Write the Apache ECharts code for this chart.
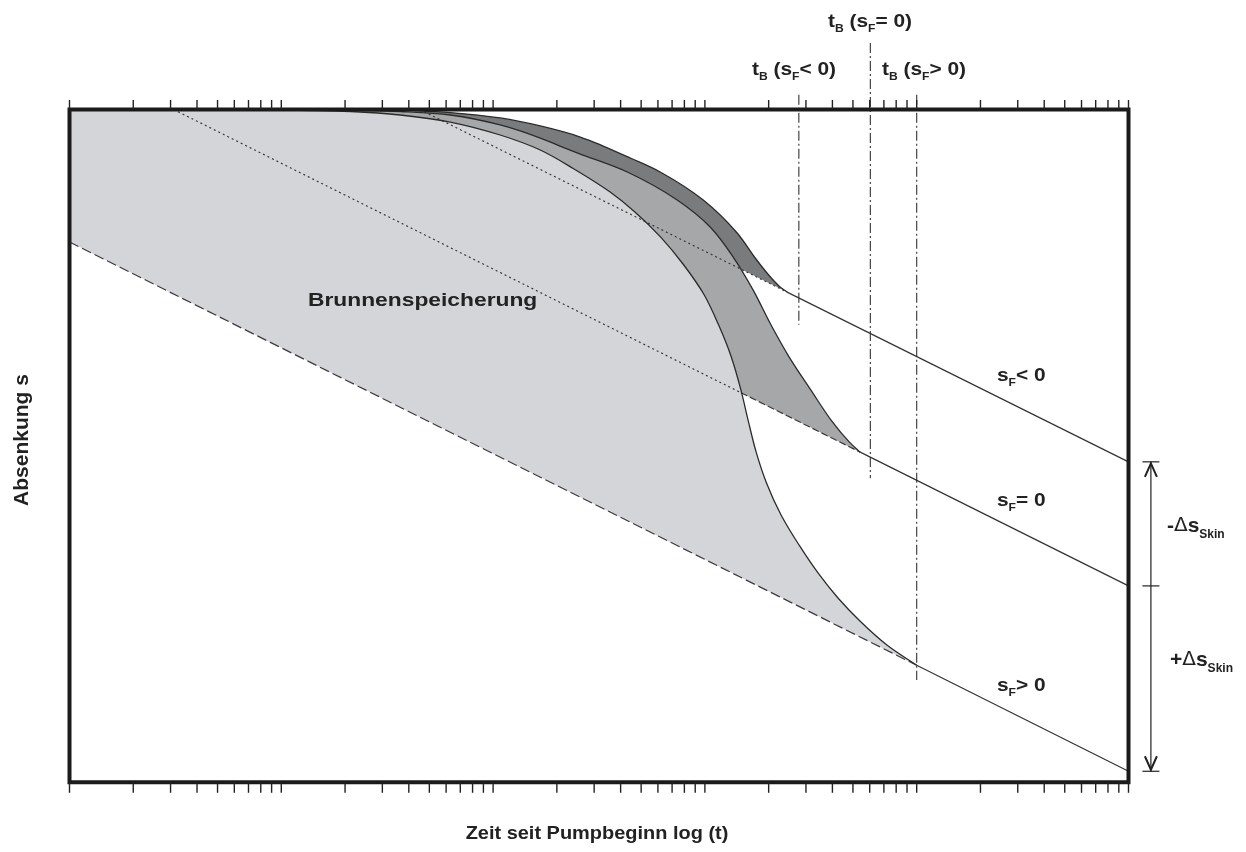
<!DOCTYPE html>
<html>
<head>
<meta charset="utf-8">
<script src="https://cdn.jsdelivr.net/npm/echarts@6/dist/echarts.min.js"></script>
<style>
html, body { margin: 0; padding: 0; background: #fff; }
#chart { width: 1246px; height: 852px; }
</style>
</head>
<body>
<div id="chart"></div>
<script>
// Semi-log drawdown diagram: time t (log, 1 … 1e5) against drawdown s (0 at top, 10 at bottom).

// minor/major tick positions on the time axis
const tickValues = [
  1, 2, 3, 4, 5, 6, 7, 8, 9,
  10, 20, 30, 40, 50, 60, 70, 80, 90,
  100, 200, 300, 400, 500, 600, 700, 800, 900,
  1000, 2000, 3000, 4000, 5000, 6000, 7000, 8000, 9000,
  10000, 20000, 30000, 40000, 50000, 60000, 70000, 80000, 90000,
  100000
];

// wellbore-storage curves [t, s] for the three skin cases
const curveSkinPos = [
  [8, 0], [12.3, 0.012], [21.2, 0.03], [36.4, 0.082], [62.7, 0.186], [108, 0.379],
  [167, 0.602], [240, 0.88], [357, 1.227], [470, 1.53], [620, 1.9], [790, 2.3],
  [990, 2.75], [1160, 3.2], [1330, 3.67], [1480, 4.17], [1600, 4.62], [1746, 5.093],
  [1947, 5.539], [2292, 6.03], [2787, 6.476], [3427, 6.892], [4260, 7.264], [5410, 7.606],
  [7257, 7.963], [10000, 8.26]
];
const curveSkinZero = [
  [21.2, 0.01], [36.4, 0.03], [62.7, 0.082], [108, 0.23], [167, 0.424], [207, 0.543],
  [258, 0.662], [430, 0.929], [740, 1.346], [1059, 1.747], [1360, 2.193], [1690, 2.684],
  [2050, 3.2], [2500, 3.68], [3150, 4.16], [3950, 4.62], [4800, 4.94], [5410, 5.093]
];
const curveSkinNeg = [
  [36.4, 0.01], [62.7, 0.045], [108, 0.126], [167, 0.245], [258, 0.409], [331, 0.543],
  [444, 0.721], [615, 0.929], [982, 1.346], [1420, 1.836], [1720, 2.2], [2000, 2.46],
  [2250, 2.63], [2444, 2.714]
];

// late-time semi-log straight lines
const lineSkinNeg = [[2444, 2.714], [100000, 5.237]];
const lineSkinZero = [[5410, 5.093], [100000, 7.081]];
const lineSkinPos = [[10000, 8.26], [100000, 9.836]];

// their backward extensions into early time
const extSkinNeg = [[45, 0], [2444, 2.714]];
const extSkinZeroDotted = [[3.1, 0], [1479, 4.209]];
const extSkinZeroDashed = [[1479, 4.209], [5410, 5.093]];
const extSkinPos = [[1, 1.97], [10000, 8.26]];

// end of wellbore storage t_B for each case
const markSkinNeg = [[2777, -0.22], [2777, 3.2]];
const markSkinZero = [[6040, -0.99], [6040, 5.48]];
const markSkinPos = [[10000, -0.22], [10000, 8.48]];

const FONT = '"Liberation Sans", Arial, Helvetica, sans-serif';
const INK = '#222';

function toPx(api, pts) { return pts.map(p => api.coord(p)); }

// centripetal Catmull-Rom spline through pixel points, as cubic Bezier commands
function smoothPath(px, moveFirst) {
  let d = (moveFirst ? 'M' : 'L') + px[0][0] + ',' + px[0][1];
  const n = px.length, eps = 1e-6;
  const dist = (a, b) => Math.hypot(a[0] - b[0], a[1] - b[1]);
  for (let i = 0; i < n - 1; i++) {
    const p0 = px[Math.max(i - 1, 0)], p1 = px[i], p2 = px[i + 1], p3 = px[Math.min(i + 2, n - 1)];
    const l01 = dist(p0, p1), l12 = dist(p1, p2), l23 = dist(p2, p3);
    const l01a = Math.sqrt(l01), l12a = Math.sqrt(l12), l23a = Math.sqrt(l23);
    let c1, c2;
    if (l01a > eps) {
      const a = 2 * l01 + 3 * l01a * l12a + l12, m = 3 * l01a * (l01a + l12a);
      c1 = [(p1[0] * a - p0[0] * l12 + p2[0] * l01) / m, (p1[1] * a - p0[1] * l12 + p2[1] * l01) / m];
    } else {
      c1 = [p1[0] + (p2[0] - p1[0]) / 3, p1[1] + (p2[1] - p1[1]) / 3];
    }
    if (l23a > eps) {
      const b = 2 * l23 + 3 * l23a * l12a + l12, m = 3 * l23a * (l23a + l12a);
      c2 = [(p2[0] * b + p1[0] * l23 - p3[0] * l12) / m, (p2[1] * b + p1[1] * l23 - p3[1] * l12) / m];
    } else {
      c2 = [p2[0] - (p2[0] - p1[0]) / 3, p2[1] - (p2[1] - p1[1]) / 3];
    }
    d += ' C' + c1[0] + ',' + c1[1] + ' ' + c2[0] + ',' + c2[1] + ' ' + p2[0] + ',' + p2[1];
  }
  return d;
}
function straightPath(px) { return px.map(p => ' L' + p[0] + ',' + p[1]).join(''); }

function lineSeries(data, style, z) {
  return {
    type: 'line', data: data, symbol: 'none', showSymbol: false, silent: true,
    clip: false, z: z || 3, animation: false,
    lineStyle: Object.assign({ color: '#333', width: 1.2 }, style)
  };
}

const main = { fontSize: 19, fontWeight: 'bold', fontFamily: FONT, fill: INK, lineHeight: 22, verticalAlign: 'top' };
const sub = { fontSize: 11, fontWeight: 'bold', fontFamily: FONT, fill: INK, lineHeight: 14, padding: [11, 0, 0, 0], verticalAlign: 'top' };
const big = { fontSize: 21, fontWeight: 'bold', fontFamily: FONT, fill: INK, lineHeight: 24, verticalAlign: 'top' };
const bigSub = { fontSize: 12, fontWeight: 'bold', fontFamily: FONT, fill: INK, lineHeight: 14, padding: [13, 0, 0, 0], verticalAlign: 'top' };
const delta = { fontSize: 20, fontWeight: 'normal', fontFamily: '"DejaVu Sans", sans-serif', fill: INK, lineHeight: 24, verticalAlign: 'top' };
const richSet = { m: main, s: sub, b: big, bs: bigSub, d: delta };

function label(text, x, y, sx) {
  return { type: 'text', x: x, y: y, scaleX: sx || 1.1, silent: true, z: 10,
    style: { text: text, rich: richSet, fill: INK, align: 'left', verticalAlign: 'top' } };
}

const chart = echarts.init(document.getElementById('chart'));

chart.setOption({
  animation: false,
  backgroundColor: '#fff',
  grid: { left: 69.5, right: 117.5, top: 109.5, bottom: 69.7, containLabel: false },
  xAxis: { type: 'log', logBase: 10, min: 1, max: 100000, show: false },
  yAxis: { type: 'value', min: 0, max: 10, inverse: true, show: false },
  series: [
    // shaded storage regions
    {
      type: 'custom', data: [[1, 0]], z: 1, silent: true, clip: true,
      renderItem(params, api) {
        const dark = smoothPath(toPx(api, curveSkinNeg), true) +
          straightPath(toPx(api, extSkinNeg.slice().reverse())) + ' Z';
        const medium = smoothPath(toPx(api, curveSkinZero), true) +
          straightPath(toPx(api, extSkinZeroDashed.concat(extSkinZeroDotted.slice(0, 1)).reverse())) + ' Z';
        const corner = api.coord([1, 0]);
        const light = 'M' + corner[0] + ',' + corner[1] + ' ' +
          smoothPath(toPx(api, curveSkinPos), false) +
          straightPath(toPx(api, extSkinPos.slice().reverse())) + ' Z';
        return { type: 'group', children: [
          { type: 'path', shape: { pathData: dark }, style: { fill: '#7a7b7d' } },
          { type: 'path', shape: { pathData: medium }, style: { fill: '#a6a7a9' } },
          { type: 'path', shape: { pathData: light }, style: { fill: '#d3d5d8' } }
        ] };
      }
    },
    // straight-line extensions
    lineSeries(extSkinPos, { type: [10, 4], color: '#3a3a3a' }),
    lineSeries(extSkinZeroDotted, { type: [2, 3], color: '#3a3a3a' }),
    lineSeries(extSkinZeroDashed, { type: [7, 3], color: '#3a3a3a' }),
    lineSeries(extSkinNeg, { type: [2, 3], color: '#3a3a3a' }),
    // late-time straight lines
    lineSeries(lineSkinNeg, { type: 'solid' }),
    lineSeries(lineSkinZero, { type: 'solid' }),
    lineSeries(lineSkinPos, { type: 'solid' }),
    // t_B markers
    lineSeries(markSkinNeg, { type: [10, 3, 2, 3], color: '#333', width: 1.1 }),
    lineSeries(markSkinZero, { type: [10, 3, 2, 3], color: '#333', width: 1.1 }),
    lineSeries(markSkinPos, { type: [10, 3, 2, 3], color: '#333', width: 1.1 }),
    // storage curves
    {
      type: 'custom', data: [[1, 0]], z: 4, silent: true, clip: true,
      renderItem(params, api) {
        const st = { fill: null, stroke: '#2b2b2b', lineWidth: 1.3 };
        return { type: 'group', children: [curveSkinNeg, curveSkinZero, curveSkinPos].map(c => (
          { type: 'path', shape: { pathData: smoothPath(toPx(api, c), true) }, style: st }
        )) };
      }
    },
    // frame
    {
      type: 'custom', data: [[1, 0]], z: 6, silent: true, clip: false,
      renderItem(params, api) {
        const a = api.coord([1, 0]), b = api.coord([100000, 10]);
        return { type: 'rect', shape: { x: a[0], y: a[1], width: b[0] - a[0], height: b[1] - a[1] },
          style: { fill: null, stroke: '#1b1b1b', lineWidth: 4 } };
      }
    },
    // outward ticks on top and bottom edges
    {
      type: 'custom', data: tickValues.map(v => [v, 0]), z: 6, silent: true, clip: false,
      renderItem(params, api) {
        const t = api.value(0);
        const top = api.coord([t, 0]), bot = api.coord([t, 10]);
        const st = { stroke: '#222', lineWidth: 1.4 };
        return { type: 'group', children: [
          { type: 'line', shape: { x1: top[0], y1: top[1], x2: top[0], y2: top[1] - 9.5 }, style: st },
          { type: 'line', shape: { x1: bot[0], y1: bot[1], x2: bot[0], y2: bot[1] + 10.5 }, style: st }
        ] };
      }
    },
    // skin-effect dimension arrow at the right edge
    {
      type: 'custom', data: [[100000, 0]], z: 6, silent: true, clip: false,
      renderItem(params, api) {
        const tEnd = api.value(0);
        const yTop = api.coord([tEnd, lineSkinNeg[1][1]])[1];
        const yMid = api.coord([tEnd, lineSkinZero[1][1]])[1];
        const yBot = api.coord([tEnd, lineSkinPos[1][1]])[1];
        const x = api.coord([tEnd, 0])[0] + 22.4;
        const thin = { stroke: '#222', lineWidth: 1.2, fill: null };
        const thick = { stroke: '#222', lineWidth: 2, fill: null };
        return { type: 'group', children: [
          { type: 'line', shape: { x1: x, y1: yTop, x2: x, y2: yBot }, style: thin },
          { type: 'line', shape: { x1: x - 8.5, y1: yTop, x2: x + 8.5, y2: yTop }, style: thin },
          { type: 'line', shape: { x1: x - 8.5, y1: yMid, x2: x + 8.5, y2: yMid }, style: thin },
          { type: 'line', shape: { x1: x - 8.5, y1: yBot, x2: x + 8.5, y2: yBot }, style: thin },
          { type: 'polyline', shape: { points: [[x - 6, yTop + 15], [x, yTop + 1.5], [x + 6, yTop + 15]] }, style: thick },
          { type: 'polyline', shape: { points: [[x - 6, yBot - 15], [x, yBot - 1.5], [x + 6, yBot - 15]] }, style: thick }
        ] };
      }
    }
  ],
  graphic: [
    label('{m|t}{s|B}{m| (s}{s|F}{m|= 0)}', 828, 12),
    label('{m|t}{s|B}{m| (s}{s|F}{m|< 0)}', 752, 60),
    label('{m|t}{s|B}{m| (s}{s|F}{m|> 0)}', 882, 60),
    label('{m|s}{s|F}{m|< 0}', 997, 366),
    label('{m|s}{s|F}{m|= 0}', 997, 491),
    label('{m|s}{s|F}{m|> 0}', 997, 676),
    label('{b|-}{d|Δ}{b|s}{bs|Skin}', 1167, 516, 1.0),
    label('{b|+}{d|Δ}{b|s}{bs|Skin}', 1170, 650, 1.0),
    { type: 'text', x: 308, y: 301, scaleX: 1.2, silent: true, z: 10,
      style: { text: 'Brunnenspeicherung', fontSize: 19, fontWeight: 'bold', fontFamily: FONT,
        fill: INK, align: 'left', verticalAlign: 'middle' } },
    { type: 'text', x: 597, y: 834, scaleX: 1.05, silent: true, z: 10,
      style: { text: 'Zeit seit Pumpbeginn log (t)', fontSize: 19, fontWeight: 'bold', fontFamily: FONT,
        fill: INK, align: 'center', verticalAlign: 'middle' } },
    { type: 'text', x: 22, y: 440, rotation: Math.PI / 2, silent: true, z: 10,
      style: { text: 'Absenkung s', fontSize: 21, fontWeight: 'bold', fontFamily: FONT,
        fill: INK, align: 'center', verticalAlign: 'middle' } }
  ]
});
</script>
</body>
</html>
